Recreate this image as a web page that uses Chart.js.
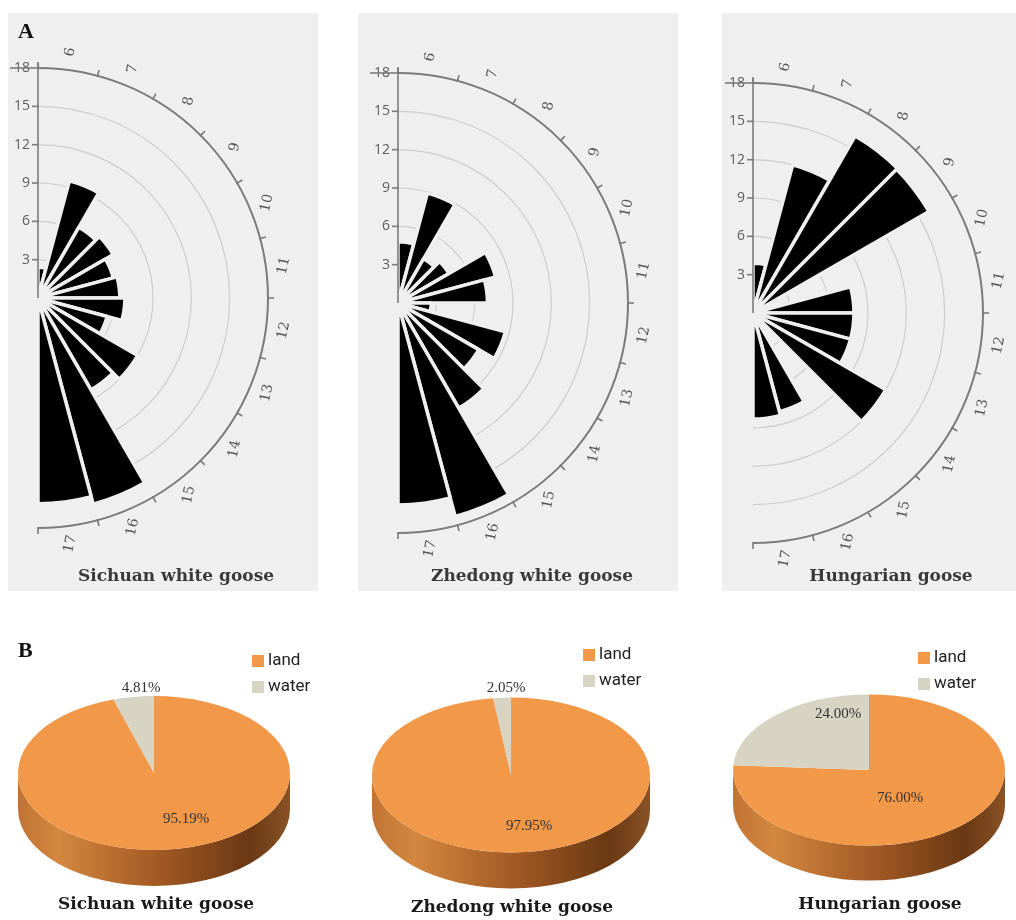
<!DOCTYPE html>
<html>
<head>
<meta charset="utf-8">
<script src="https://cdn.jsdelivr.net/npm/chart.js@4.4.1/dist/chart.umd.min.js"></script>
<style>
  body { margin: 0; width: 1016px; height: 920px; background: #fff; position: relative; overflow: hidden; }
  canvas { position: absolute; }
  .rose { background: #efefef; top: 13px; }
  .tag { position: absolute; font: bold 22px "Liberation Serif", serif; color: #111; }
  .cap { position: absolute; width: 300px; text-align: center; font: bold 17px "DejaVu Serif", serif; color: #1a1a1a; }
</style>
</head>
<body>
<canvas id="roseSichuan" class="rose" width="310" height="578" style="left:8px"></canvas>
<canvas id="roseZhedong" class="rose" width="320" height="578" style="left:358px"></canvas>
<canvas id="roseHungarian" class="rose" width="294" height="578" style="left:722px"></canvas>

<canvas id="pieSichuan" width="340" height="280" style="left:0;top:640px"></canvas>
<canvas id="pieZhedong" width="340" height="280" style="left:340px;top:640px"></canvas>
<canvas id="pieHungarian" width="336" height="280" style="left:680px;top:640px"></canvas>

<div class="tag" style="left:18px;top:18px">A</div>
<div class="tag" style="left:18px;top:637px">B</div>
<div class="cap" style="left:6px;top:893px">Sichuan white goose</div>
<div class="cap" style="left:362px;top:896px">Zhedong white goose</div>
<div class="cap" style="left:730px;top:893px">Hungarian goose</div>

<script>
// hours of the day (angular bins) and share of activity per hour (%)
const hours = ['6', '7', '8', '9', '10', '11', '12', '13', '14', '15', '16', '17'];
const sichuanRose = [2.4, 9.5, 6.4, 6.8, 6.1, 6.4, 6.8, 5.6, 9.0, 8.3, 16.7, 16.1];
const zhedongRose = [4.8, 8.9, 4.0, 4.6, 7.9, 7.0, 2.6, 8.7, 7.3, 9.5, 17.3, 15.8];
const hungarianRose = [3.9, 12.0, 16.0, 15.9, 0, 7.9, 7.9, 7.9, 12.0, 0, 8.0, 8.3];
const radialTicks = [3, 6, 9, 12, 15, 18];

// land / water use (%)
const habitats = ['land', 'water'];
const sichuanHabitat = [95.19, 4.81];
const zhedongHabitat = [97.95, 2.05];
const hungarianHabitat = [76.00, 24.00];

const habitatColors = ['#f29849', '#d8d4c3'];
const panelBg = '#efefef';

// panel geometry (canvas px)
const roseBox = [
  { id: 'roseSichuan', values: sichuanRose, title: 'Sichuan white goose', cx: 30, cy: 285, R: 230, padLeft: 26 },
  { id: 'roseZhedong', values: zhedongRose, title: 'Zhedong white goose', cx: 40, cy: 290, R: 230, padLeft: 28 },
  { id: 'roseHungarian', values: hungarianRose, title: 'Hungarian goose', cx: 31, cy: 300, R: 230, padLeft: 44 }
];

const pieBox = [
  { id: 'pieSichuan', values: sichuanHabitat, cx: 154, cy: 133, R: 136, tilt: 0.566, depth: 36,
    spots: [[32, 46], [-13, -85]], legend: [252, 15] },
  { id: 'pieZhedong', values: zhedongHabitat, cx: 171, cy: 135, R: 139, tilt: 0.557, depth: 36,
    spots: [[18, 51], [-5, -87]], legend: [243, 9] },
  { id: 'pieHungarian', values: hungarianHabitat, cx: 189, cy: 130, R: 136, tilt: 0.556, depth: 35,
    spots: [[31, 28], [-31, -56]], legend: [238, 12] }
];

// half-circle axis: grid arcs, value axis, hour ticks and labels
function roseAxis() {
  return {
    id: 'roseAxis',
    beforeDatasetsDraw(chart) {
      const s = chart.scales.r, ctx = chart.ctx;
      ctx.save();
      ctx.strokeStyle = '#cdcdcd';
      ctx.lineWidth = 1.2;
      radialTicks.slice(0, -1).forEach(v => {
        ctx.beginPath();
        ctx.arc(s.xCenter, s.yCenter, s.getDistanceFromCenterForValue(v), -Math.PI / 2, Math.PI / 2);
        ctx.stroke();
      });
      ctx.restore();
    },
    afterDatasetsDraw(chart) {
      const s = chart.scales.r, ctx = chart.ctx;
      const x0 = s.xCenter, y0 = s.yCenter;
      const R = s.getDistanceFromCenterForValue(18);
      const arcs = chart.getDatasetMeta(0).data;
      ctx.save();
      ctx.strokeStyle = '#7b7b7b';
      ctx.lineWidth = 2;
      ctx.beginPath();
      ctx.arc(x0, y0, R, -Math.PI / 2, Math.PI / 2);
      ctx.stroke();

      ctx.lineWidth = 1.6;
      ctx.beginPath();
      ctx.moveTo(x0, y0 - R - 5);
      ctx.lineTo(x0, y0);
      ctx.stroke();

      // value axis
      ctx.fillStyle = '#5e5e5e';
      ctx.font = '14px "Open Sans", sans-serif';
      ctx.textAlign = 'right';
      ctx.textBaseline = 'middle';
      radialTicks.forEach(v => {
        const y = y0 - s.getDistanceFromCenterForValue(v);
        ctx.fillText(String(v), x0 - 8, y);
        ctx.beginPath();
        ctx.moveTo(x0 - (v === 18 ? 28 : 6), y);
        ctx.lineTo(x0, y);
        ctx.stroke();
      });

      // hour ticks at bin edges
      const edges = arcs.map(a => a.startAngle).concat(arcs[arcs.length - 1].endAngle);
      edges.forEach(a => {
        ctx.beginPath();
        ctx.moveTo(x0 + Math.cos(a) * (R - 1), y0 + Math.sin(a) * (R - 1));
        ctx.lineTo(x0 + Math.cos(a) * (R + 6), y0 + Math.sin(a) * (R + 6));
        ctx.stroke();
      });

      ctx.fillStyle = '#555';
      ctx.font = '14px "DejaVu Serif", serif';
      ctx.textAlign = 'center';
      hours.forEach((h, i) => {
        const a = (arcs[i].startAngle + arcs[i].endAngle) / 2;
        ctx.save();
        ctx.translate(x0 + Math.cos(a) * (R + 18), y0 + Math.sin(a) * (R + 18));
        ctx.rotate(-78 * Math.PI / 180);
        ctx.fillText(h, 0, 0);
        ctx.restore();
      });
      ctx.restore();
    }
  };
}

roseBox.forEach(cfg => {
  new Chart(document.getElementById(cfg.id), {
    type: 'polarArea',
    data: {
      labels: hours,
      datasets: [{
        data: cfg.values,
        angle: 180 / hours.length,
        backgroundColor: '#000',
        borderColor: panelBg,
        borderWidth: 3.5,
        clip: false
      }]
    },
    options: {
      responsive: false,
      animation: false,
      layout: { padding: { left: cfg.padLeft } },
      plugins: {
        legend: { display: false },
        tooltip: { enabled: false },
        title: {
          display: true,
          text: cfg.title,
          position: 'bottom',
          color: '#3a3a3a',
          font: { family: 'DejaVu Serif', size: 17, weight: 'bold' },
          padding: { top: 0, bottom: 4 }
        }
      },
      scales: {
        r: {
          min: 0,
          max: 18,
          grid: { display: false },
          angleLines: { display: false },
          ticks: { display: false },
          pointLabels: { display: false },
          afterFit(scale) {
            scale.xCenter = cfg.cx;
            scale.yCenter = cfg.cy;
            scale.drawingArea = cfg.R;
          }
        }
      }
    },
    plugins: [roseAxis()]
  });
});

// tilted pie with a side wall, plus labels and legend
function pie3d(cfg) {
  return {
    id: 'pie3d',
    beforeDatasetsDraw(chart) {
      const { x, y, outerRadius: r } = chart.getDatasetMeta(0).data[0];
      const ry = r * cfg.tilt, t = cfg.depth, ctx = chart.ctx;
      ctx.save();
      const g = ctx.createLinearGradient(x - r, 0, x + r, 0);
      g.addColorStop(0, '#c27334');
      g.addColorStop(0.15, '#d3873f');
      g.addColorStop(0.5, '#a55b25');
      g.addColorStop(0.85, '#6a3813');
      g.addColorStop(1, '#8a5226');
      ctx.fillStyle = g;
      ctx.beginPath();
      ctx.ellipse(x, y, r, ry, 0, 0, Math.PI);
      ctx.lineTo(x - r, y + t);
      ctx.ellipse(x, y + t, r, ry, 0, Math.PI, 0, true);
      ctx.closePath();
      ctx.fill();
      ctx.translate(x, y);
      ctx.scale(1, cfg.tilt);
      ctx.translate(-x, -y);
    },
    afterDatasetsDraw(chart) {
      const ctx = chart.ctx;
      ctx.restore();
      const { x, y } = chart.getDatasetMeta(0).data[0];
      ctx.save();
      ctx.fillStyle = '#333';
      ctx.font = '15px "Liberation Serif", serif';
      ctx.textAlign = 'center';
      ctx.textBaseline = 'middle';
      cfg.values.forEach((v, i) => {
        ctx.fillText(v.toFixed(2) + '%', x + cfg.spots[i][0], y + cfg.spots[i][1]);
      });
      const [lx, ly] = cfg.legend;
      ctx.textAlign = 'left';
      ctx.font = '17px "Liberation Sans Narrow", "Roboto", sans-serif';
      habitats.forEach((name, i) => {
        ctx.fillStyle = habitatColors[i];
        ctx.fillRect(lx, ly + i * 26, 12, 12);
        ctx.fillStyle = '#222';
        ctx.fillText(name, lx + 16, ly + i * 26 + 6);
      });
      ctx.restore();
    }
  };
}

pieBox.forEach(cfg => {
  const cv = document.getElementById(cfg.id);
  new Chart(cv, {
    type: 'pie',
    data: {
      labels: habitats,
      datasets: [{ data: cfg.values, backgroundColor: habitatColors, borderWidth: 0, clip: false }]
    },
    options: {
      responsive: false,
      animation: false,
      radius: cfg.R,
      layout: { padding: { left: cfg.cx - 10, right: cv.width - cfg.cx - 10, top: cfg.cy - 10, bottom: cv.height - cfg.cy - 10 } },
      plugins: { legend: { display: false }, tooltip: { enabled: false } }
    },
    plugins: [pie3d(cfg)]
  });
});
</script>
</body>
</html>
